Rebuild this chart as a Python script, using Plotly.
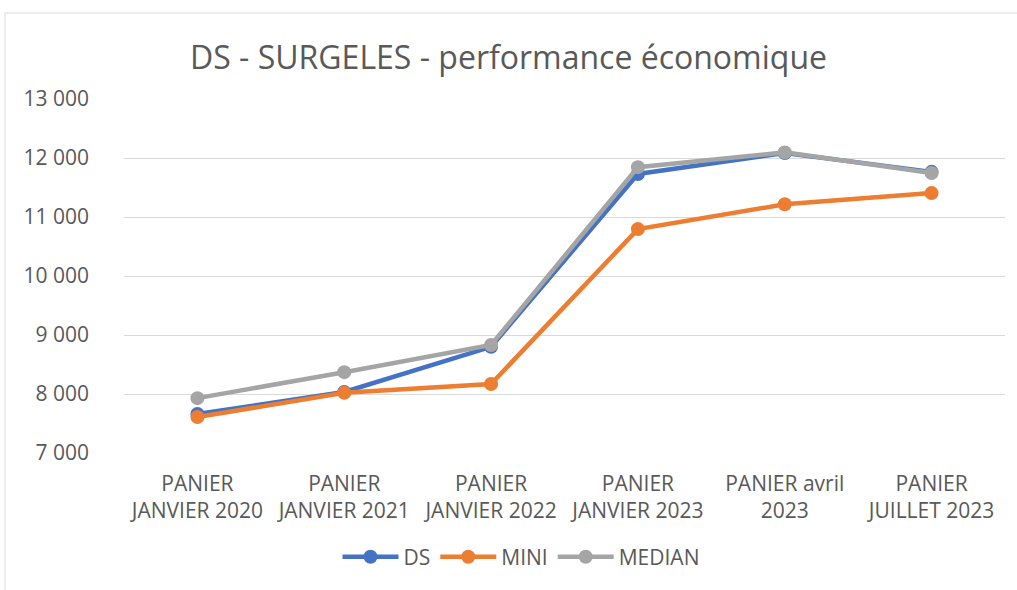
import plotly.graph_objects as go

categories = ["PANIER<br>JANVIER 2020", "PANIER<br>JANVIER 2021", "PANIER<br>JANVIER 2022",
              "PANIER<br>JANVIER 2023", "PANIER avril<br>2023", "PANIER<br>JUILLET 2023"]
ds = [7660, 8035, 8800, 11730, 12085, 11765]
mini = [7610, 8020, 8170, 10795, 11215, 11405]
median = [7930, 8370, 8830, 11845, 12095, 11745]

y_tickvals = [7000, 8000, 9000, 10000, 11000, 12000, 13000]
y_ticktext = ["7 000", "8 000", "9 000", "10 000", "11 000", "12 000", "13 000"]

series = [("DS", ds, "#4472C4"), ("MINI", mini, "#ED7D31"), ("MEDIAN", median, "#A5A5A5")]

fig = go.Figure()
for name, vals, col in series:
    fig.add_trace(go.Scatter(x=categories, y=vals, name=name, mode="lines+markers",
                             line=dict(color=col, width=4.5),
                             marker=dict(color=col, size=14)))

font_family = "Open Sans, Noto Sans, Liberation Sans, sans-serif"
fig.update_layout(
    width=1017, height=590,
    margin=dict(l=124, r=12, t=99, b=137, autoexpand=False),
    paper_bgcolor="white", plot_bgcolor="white",
    font=dict(family=font_family, color="#595959", size=21),
    title=dict(text="DS - SURGELES - performance économique", x=0.5, xanchor="center",
               y=1 - 58 / 590, yanchor="middle", font=dict(size=32, color="#595959")),
    xaxis=dict(showgrid=False, showline=False, ticks="", automargin=False,
               range=[-0.5, len(categories) - 0.5], ticklabelstandoff=16,
               tickfont=dict(size=21, color="#595959")),
    yaxis=dict(range=[7000, 13000], tickvals=y_tickvals, ticktext=y_ticktext,
               showgrid=True, gridcolor="#D9D9D9", gridwidth=1, zeroline=False,
               showline=False, ticks="", ticklabelstandoff=34, automargin=False,
               tickfont=dict(size=21, color="#595959")),
    legend=dict(orientation="h", x=(521 - 124) / 881, xanchor="center", y=-0.294, yanchor="middle",
                font=dict(size=21, color="#595959"), itemwidth=56),
    showlegend=True,
)
fig.add_shape(type="rect", xref="paper", yref="paper",
              x0=(5 - 124) / 881, x1=(1030 - 124) / 881,
              y0=(453 - 600) / 354, y1=(453 - 13) / 354,
              line=dict(color="#D9D9D9", width=1), layer="below")

fig.write_html("out.html", config={"displayModeBar": False},
               post_script="document.body.style.margin='0';")
